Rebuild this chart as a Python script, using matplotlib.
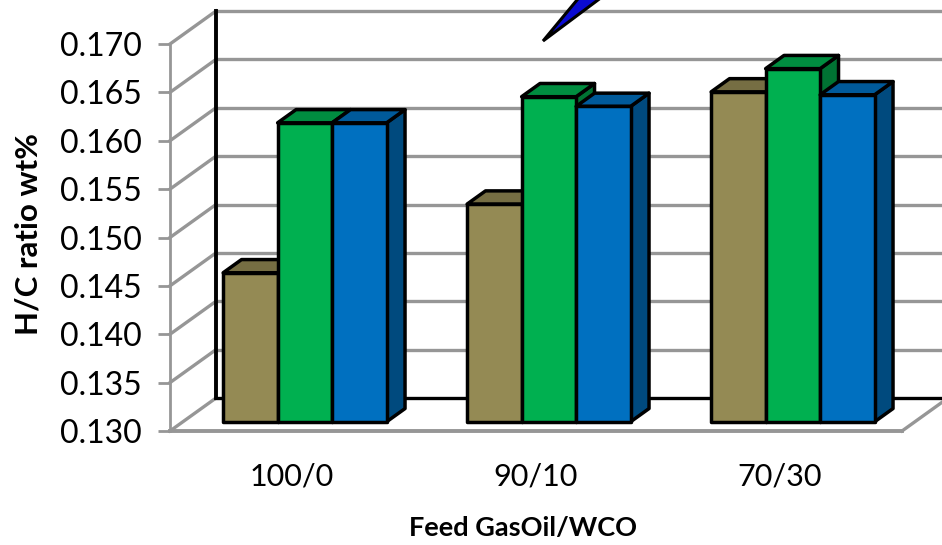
import matplotlib
matplotlib.use("Agg")
import matplotlib.pyplot as plt
from matplotlib.patches import Polygon

plt.rcParams['font.family'] = ['Lato', 'DejaVu Sans']

# Data
categories = ["100/0", "90/10", "70/30"]
series_a = [0.1454, 0.1525, 0.1641]
series_b = [0.1609, 0.1636, 0.1665]
series_c = [0.1609, 0.1626, 0.1638]
y_ticks = [0.130, 0.135, 0.140, 0.145, 0.150, 0.155, 0.160, 0.165, 0.170]

# colours: front, top, side
styles = [
    ("#948A54", "#766E43", "#5F5836"),
    ("#00B050", "#008D40", "#007333"),
    ("#0070C0", "#005A9A", "#004A7E"),
]

W, H = 942, 545
LEFT, RIGHT, TOP, BOTTOM = 170, 902, 44, 431
GRAY = "#969696"

fig = plt.figure(figsize=(W / 100, H / 100), dpi=100)
ax = fig.add_axes([LEFT / W, 1 - BOTTOM / H, (RIGHT - LEFT) / W, (BOTTOM - TOP) / H])
ax.set_xlim(-0.5, 2.5)
ax.set_ylim(0.130, 0.170)

# depth of the 3D box, in data units
depth_x = 46 / ((RIGHT - LEFT) / 3)
depth_y = 33 / ((BOTTOM - TOP) / 0.04)
bar_w = 54.5 / ((RIGHT - LEFT) / 3)
bar_front = 0.28
bar_back = 0.68


def shift(x, y, d):
    return x + d * depth_x, y + d * depth_y


def line(xs, ys, color=GRAY, lw=2.4, z=1):
    ax.plot(xs, ys, color=color, lw=lw, zorder=z, clip_on=False, solid_capstyle="projecting")


x0, x1 = ax.get_xlim()
y0 = y_ticks[0]

# walls and floor
for t in y_ticks:
    bx, by = shift(x0, t, 1)
    ex, _ = shift(x1, t, 1)
    line([x0, bx], [t, by])
    if t != y0:
        line([bx, ex], [by, by])
bx, by = shift(x1, y0, 1)
line([x1, bx], [y0, by])
line([x0, x1], [y0, y0], lw=2.8)
bx0, by0 = shift(x0, y0, 1)
_, by1 = shift(x0, y_ticks[-1], 1)
line([bx0, bx0], [by0, by1], color="black", lw=2.8, z=2)
line([bx0, bx], [by0, by0], color="black", lw=2.4, z=2)


def draw_bar(x, v, colors, z):
    l, b = shift(x, y0, bar_front)
    r = l + bar_w
    t = b + (v - y0)
    dx = (bar_back - bar_front) * depth_x
    dy = (bar_back - bar_front) * depth_y
    kw = dict(edgecolor="black", lw=2.5, joinstyle="round", clip_on=False, zorder=z)
    ax.add_patch(Polygon([(r, b), (r + dx, b + dy), (r + dx, t + dy), (r, t)], facecolor=colors[2], **kw))
    ax.add_patch(Polygon([(l, t), (l + dx, t + dy), (r + dx, t + dy), (r, t)], facecolor=colors[1], **kw))
    ax.add_patch(Polygon([(l, b), (r, b), (r, t), (l, t)], facecolor=colors[0], **kw))


z = 3
for i in range(len(categories)):
    for j, vals in enumerate([series_a, series_b, series_c]):
        draw_bar(i + (j - 1.5) * bar_w, vals[i], styles[j], z)
        z += 1

# piece of an arrow shape cut by the top edge of the image
tip = [(543, 41), (582, -6), (606, -6)]
fig.add_artist(Polygon([(px / W, 1 - py / H) for px, py in tip], closed=True,
                       transform=fig.transFigure, facecolor="#0A0AD2", edgecolor="black", lw=2.2))

for s in ["top", "right"]:
    ax.spines[s].set_visible(False)
ax.spines["bottom"].set_visible(False)
ax.spines["left"].set_color(GRAY)
ax.spines["left"].set_linewidth(2.0)
ax.set_facecolor("none")

ax.set_yticks(y_ticks)
ax.set_yticklabels(["{:.3f}".format(t) for t in y_ticks])
ax.tick_params(axis="y", length=8.5, width=2.0, color=GRAY, labelsize=23, pad=12)
ax.set_xticks(range(len(categories)))
ax.set_xticklabels(categories)
ax.tick_params(axis="x", length=0, labelsize=22, pad=23)

fig.text(523 / W, 1 - 528 / H, "Feed GasOil/WCO", fontsize=19.5, fontweight="bold", ha="center", va="center")
fig.text(29 / W, 1 - 234 / H, "H/C ratio wt%", fontsize=22.5, fontweight="bold", ha="center", va="center",
         rotation=90)

fig.savefig("out.png", dpi=100)
